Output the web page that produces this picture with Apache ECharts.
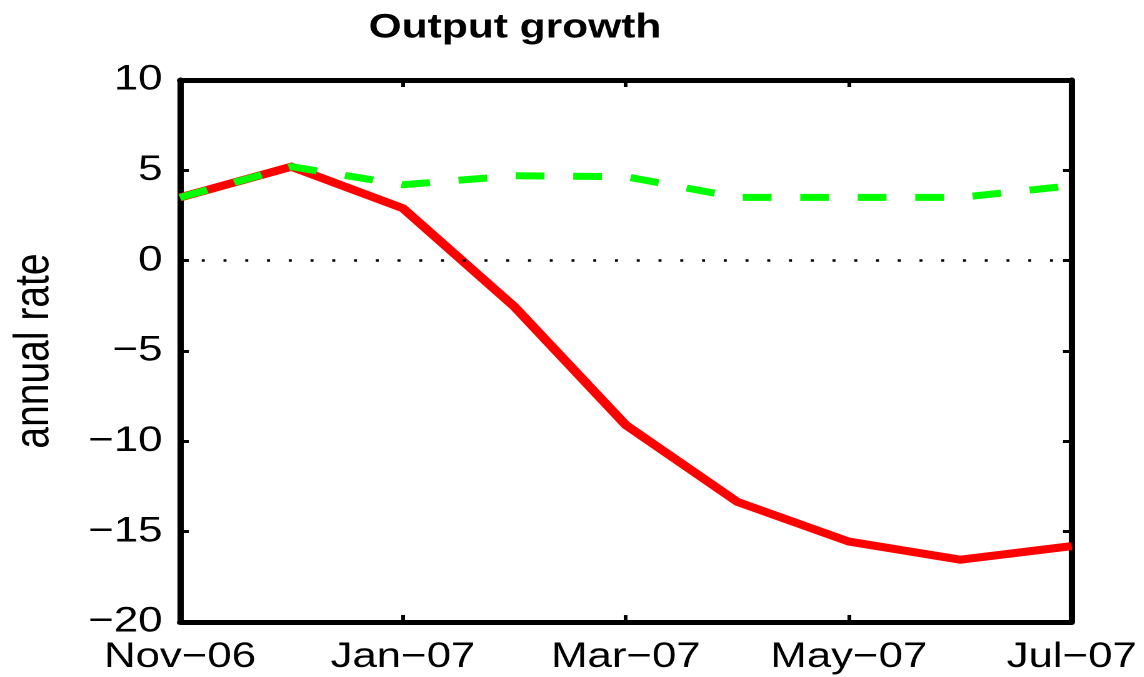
<!DOCTYPE html>
<html>
<head>
<meta charset="utf-8">
<script src="https://cdn.jsdelivr.net/npm/echarts@6/dist/echarts.min.js"></script>
<style>
html,body{margin:0;padding:0;background:#fff;overflow:hidden;}
#wrap{width:1144px;height:677px;overflow:hidden;}
/* the reference figure is stretched horizontally; reproduce that with a horizontal scale */
#chart{width:915.2px;height:677px;transform:scaleX(1.25);transform-origin:0 0;}
</style>
</head>
<body>
<div id="wrap"><div id="chart"></div></div>
<script>
const categories = ['Nov-06','Dec-06','Jan-07','Feb-07','Mar-07','Apr-07','May-07','Jun-07','Jul-07'];
const redValues = [3.5, 5.2, 2.9, -2.55, -9.1, -13.35, -15.55, -16.55, -15.8];
const greenValues = [3.5, 5.2, 4.2, 4.7, 4.65, 3.5, 3.5, 3.5, 4.15];
const yTicks = [-20, -15, -10, -5, 0, 5, 10];
const titleText = 'Output growth';
const yAxisName = 'annual rate';

const FONT = '"Liberation Sans", Arial, Helvetica, sans-serif';
const fixMinus = s => String(s).replace(/-/g, '\u2212');

const chart = echarts.init(document.getElementById('chart'), null, {renderer: 'canvas', devicePixelRatio: 2});
const axisLineStyle = {color: '#000', width: 5};
const tickStyle = {color: '#000', width: 3};
chart.setOption({
  animation: false,
  backgroundColor: '#fff',
  title: {
    text: titleText, left: 407, top: 6, textAlign: 'center',
    textStyle: {fontFamily: FONT, fontWeight: 'bold', fontSize: 34, color: '#000'}
  },
  grid: {left: 142.4, right: 57.6, top: 80, bottom: 55, containLabel: false},
  xAxis: [{
    type: 'category', data: categories, boundaryGap: false, position: 'bottom',
    axisLine: {show: true, onZero: false, lineStyle: axisLineStyle},
    axisTick: {show: true, inside: true, length: 7, interval: 1, lineStyle: tickStyle},
    axisLabel: {interval: 1, formatter: fixMinus, fontFamily: FONT, fontSize: 35, color: '#000', margin: 18},
    splitLine: {show: false}
  }, {
    type: 'category', data: categories, boundaryGap: false, position: 'top',
    axisLine: {show: true, onZero: false, lineStyle: axisLineStyle},
    axisTick: {show: true, inside: true, length: 7, interval: 1, lineStyle: tickStyle},
    axisLabel: {show: false}, splitLine: {show: false}
  }],
  yAxis: [{
    type: 'value', min: yTicks[0], max: yTicks[yTicks.length - 1], interval: 5, position: 'left',
    name: yAxisName, nameLocation: 'middle', nameGap: 97, nameRotate: 90,
    nameTextStyle: {fontFamily: FONT, fontSize: 39, color: '#000'},
    axisLine: {show: true, onZero: false, lineStyle: axisLineStyle},
    axisTick: {show: true, inside: true, length: 7, lineStyle: tickStyle},
    axisLabel: {formatter: fixMinus, fontFamily: FONT, fontSize: 35, color: '#000', margin: 14},
    splitLine: {show: false}
  }, {
    type: 'value', min: yTicks[0], max: yTicks[yTicks.length - 1], interval: 5, position: 'right',
    axisLine: {show: true, onZero: false, lineStyle: axisLineStyle},
    axisTick: {show: true, inside: true, length: 7, lineStyle: tickStyle},
    axisLabel: {show: false}, splitLine: {show: false}
  }],
  series: [{
    name: 'red', type: 'line', data: redValues, xAxisIndex: 0, yAxisIndex: 0,
    showSymbol: false, symbol: 'none',
    lineStyle: {color: '#ff0000', width: 8, cap: 'butt', join: 'miter'},
    markLine: {
      silent: true, symbol: 'none', label: {show: false},
      lineStyle: {color: '#000', width: 2.5, type: [2.4, 15], opacity: 1},
      data: [{yAxis: 0}]
    },
    z: 2
  }, {
    name: 'green', type: 'line', data: greenValues, xAxisIndex: 0, yAxisIndex: 0,
    showSymbol: false, symbol: 'none',
    lineStyle: {color: '#00ff00', width: 7, type: [23, 23], cap: 'butt'},
    z: 3
  }]
});
</script>
</body>
</html>
